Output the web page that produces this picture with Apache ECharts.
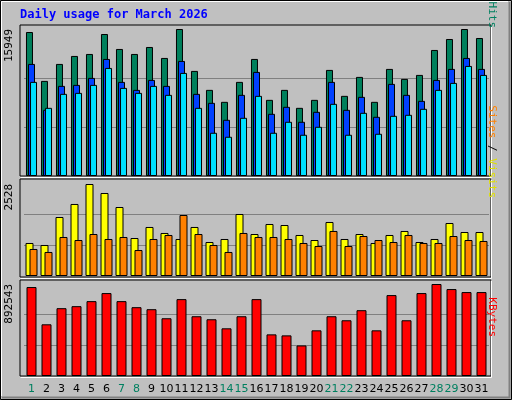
<!DOCTYPE html>
<html><head><meta charset="utf-8">
<script src="https://cdn.jsdelivr.net/npm/echarts@6/dist/echarts.min.js"></script>
<style>html,body{margin:0;padding:0;background:#c0c0c0}#c{width:512px;height:400px}</style>
</head><body><div id="c"></div>
<script>
const days = Array.from({length:31},(_,i)=>String(i+1));
const weekendDays = [1,7,8,14,15,21,22,28,29];
const hits = [15623,10319,12159,13025,13241,15406,13783,13241,13999,12808,15949,11401,9345,8046,10211,12700,8262,9345,7396,8262,11510,8695,10752,8046,11618,10535,10968,13674,14865,15949,14973];
const files = [12159,7180,9778,9886,10644,12700,10211,9345,10427,9778,12484,8912,7938,6098,8804,11293,6747,7505,5881,6963,10211,7180,8587,6422,9994,8804,8154,10427,11618,12808,11618];
const pages = [10211,7396,8912,9020,9886,11726,9561,9020,9778,8804,11185,7396,4690,4257,6314,8695,4690,5881,4474,5340,7829,4474,6855,4582,6530,6639,7288,9345,10102,11943,10968];
const visits = [907,852,1621,1979,2528,2281,1896,1044,1347,1182,1017,1347,934,1017,1704,1154,1429,1401,1127,989,1484,1017,1154,907,1127,1237,934,1017,1456,1209,1209];
const sites = [742,660,1072,989,1154,1017,1072,714,1017,1127,1676,1154,852,660,1182,1072,1072,1017,907,824,1237,824,1099,989,934,1127,907,907,1099,989,962];
const kbytes = [863105,501578,657914,677456,726311,804479,726311,667685,648143,560204,745853,579746,550433,462494,579746,745853,403868,394097,296387,442952,579746,540662,638372,442952,784937,540662,804479,892543,843563,814250,814250];
const maxHits = 15949, maxVisits = 2528, maxKB = 892543;

const chart = echarts.init(document.getElementById('c'));
const F = 'DejaVu Sans Mono';
const grids = [
  {left:24,width:465,top:29,height:147},
  {left:24,width:465,top:184,height:92},
  {left:24,width:465,top:284,height:92}
];
const gridLine = {show:true,lineStyle:{color:['transparent','#808080','#808080','transparent'],width:1}};
function yAx(i,max){return {gridIndex:i,min:0,max:max,interval:max/3,axisLabel:{show:false},axisLine:{show:false},axisTick:{show:false},splitLine:gridLine};}
function xAx(i,lab){return {gridIndex:i,type:'category',data:days,axisLine:{show:false},axisTick:{show:false},
  axisLabel:lab?{show:true,interval:0,margin:8,fontFamily:'DejaVu Sans',fontSize:11,
   formatter:v=>weekendDays.includes(+v)?'{w|'+v+'}':'{n|'+v+'}',
   rich:{w:{color:'#008060',fontFamily:'DejaVu Sans',fontSize:11},n:{color:'#000',fontFamily:'DejaVu Sans',fontSize:11}}}:{show:false}};}
const bs = {borderColor:'#000',borderWidth:1};
function frame(y,h){return [
  {type:'rect',shape:{x:20,y:y,width:471,height:h},style:{fill:'none',stroke:'#000',lineWidth:1}},
  {type:'polyline',shape:{points:[[20.5,y+h+1.5],[491.5,y+h+1.5],[491.5,y+0.5]]},style:{fill:'none',stroke:'#fff',lineWidth:1}}
];}
function vtext(x,y,rich,text){return {type:'text',x:x,y:y,rotation:Math.PI/2,style:{text:text,rich:rich,font:'11px '+F,align:'right',verticalAlign:'middle'}};}
chart.setOption({
  animation:false,
  backgroundColor:'#c0c0c0',
  grid:grids,
  xAxis:[xAx(0,false),xAx(1,false),xAx(2,true)],
  yAxis:[yAx(0,maxHits),yAx(1,maxVisits),yAx(2,maxKB)],
  graphic:[
    {type:'rect',shape:{x:0.5,y:0.5,width:511,height:399},style:{fill:'none',stroke:'#000',lineWidth:1}},
    {type:'polyline',shape:{points:[[2,397.5],[509.5,397.5],[509.5,2]]},style:{fill:'none',stroke:'#808080',lineWidth:2}},
    {type:'polyline',shape:{points:[[1.5,396],[1.5,1.5],[508,1.5]]},style:{fill:'none',stroke:'#fff',lineWidth:1}},
    ...frame(25,151),...frame(179,98),...frame(280,96),
    {type:'text',x:20,y:9,style:{text:'Daily usage for March 2026',font:'bold 12px '+F,fill:'#0000ff'}},
    vtext(9,29,null,'15949'),
    vtext(9,184,null,'2528'),
    vtext(9,284,null,'892543'),
    {type:'text',x:497,y:28,rotation:-Math.PI/2,style:{text:'{p|Pages} / {f|Files} / {h|Hits}',font:'11px '+F,align:'right',verticalAlign:'top',
      rich:{p:{fill:'#00c0e0',font:'11px '+F},f:{fill:'#0040ff',font:'11px '+F},h:{fill:'#008060',font:'11px '+F}}}},
    {type:'text',x:497,y:198,rotation:-Math.PI/2,style:{text:'{s|Sites} / {v|Visits}',font:'11px '+F,align:'right',verticalAlign:'top',
      rich:{s:{fill:'#ff8000',font:'11px '+F},v:{fill:'#e0e000',font:'11px '+F}}}},
    {type:'text',x:497,y:337,rotation:-Math.PI/2,style:{text:'KBytes',font:'11px '+F,fill:'#ff0000',align:'right',verticalAlign:'top'}}
  ],
  series:[
    {type:'bar',xAxisIndex:0,yAxisIndex:0,data:hits,barWidth:7,barGap:'-71%',itemStyle:{color:'#00805c',...bs}},
    {type:'bar',xAxisIndex:0,yAxisIndex:0,data:files,barWidth:7,barGap:'-71%',itemStyle:{color:'#0040ff',...bs}},
    {type:'bar',xAxisIndex:0,yAxisIndex:0,data:pages,barWidth:7,barGap:'-71%',itemStyle:{color:'#00e0ff',...bs}},
    {type:'bar',xAxisIndex:1,yAxisIndex:1,data:visits,barWidth:8,barGap:'-50%',itemStyle:{color:'#ffff00',...bs}},
    {type:'bar',xAxisIndex:1,yAxisIndex:1,data:sites,barWidth:8,barGap:'-50%',itemStyle:{color:'#ff8000',...bs}},
    {type:'bar',xAxisIndex:2,yAxisIndex:2,data:kbytes,barWidth:10,itemStyle:{color:'#ff0000',...bs}}
  ]
});
</script></body></html>
